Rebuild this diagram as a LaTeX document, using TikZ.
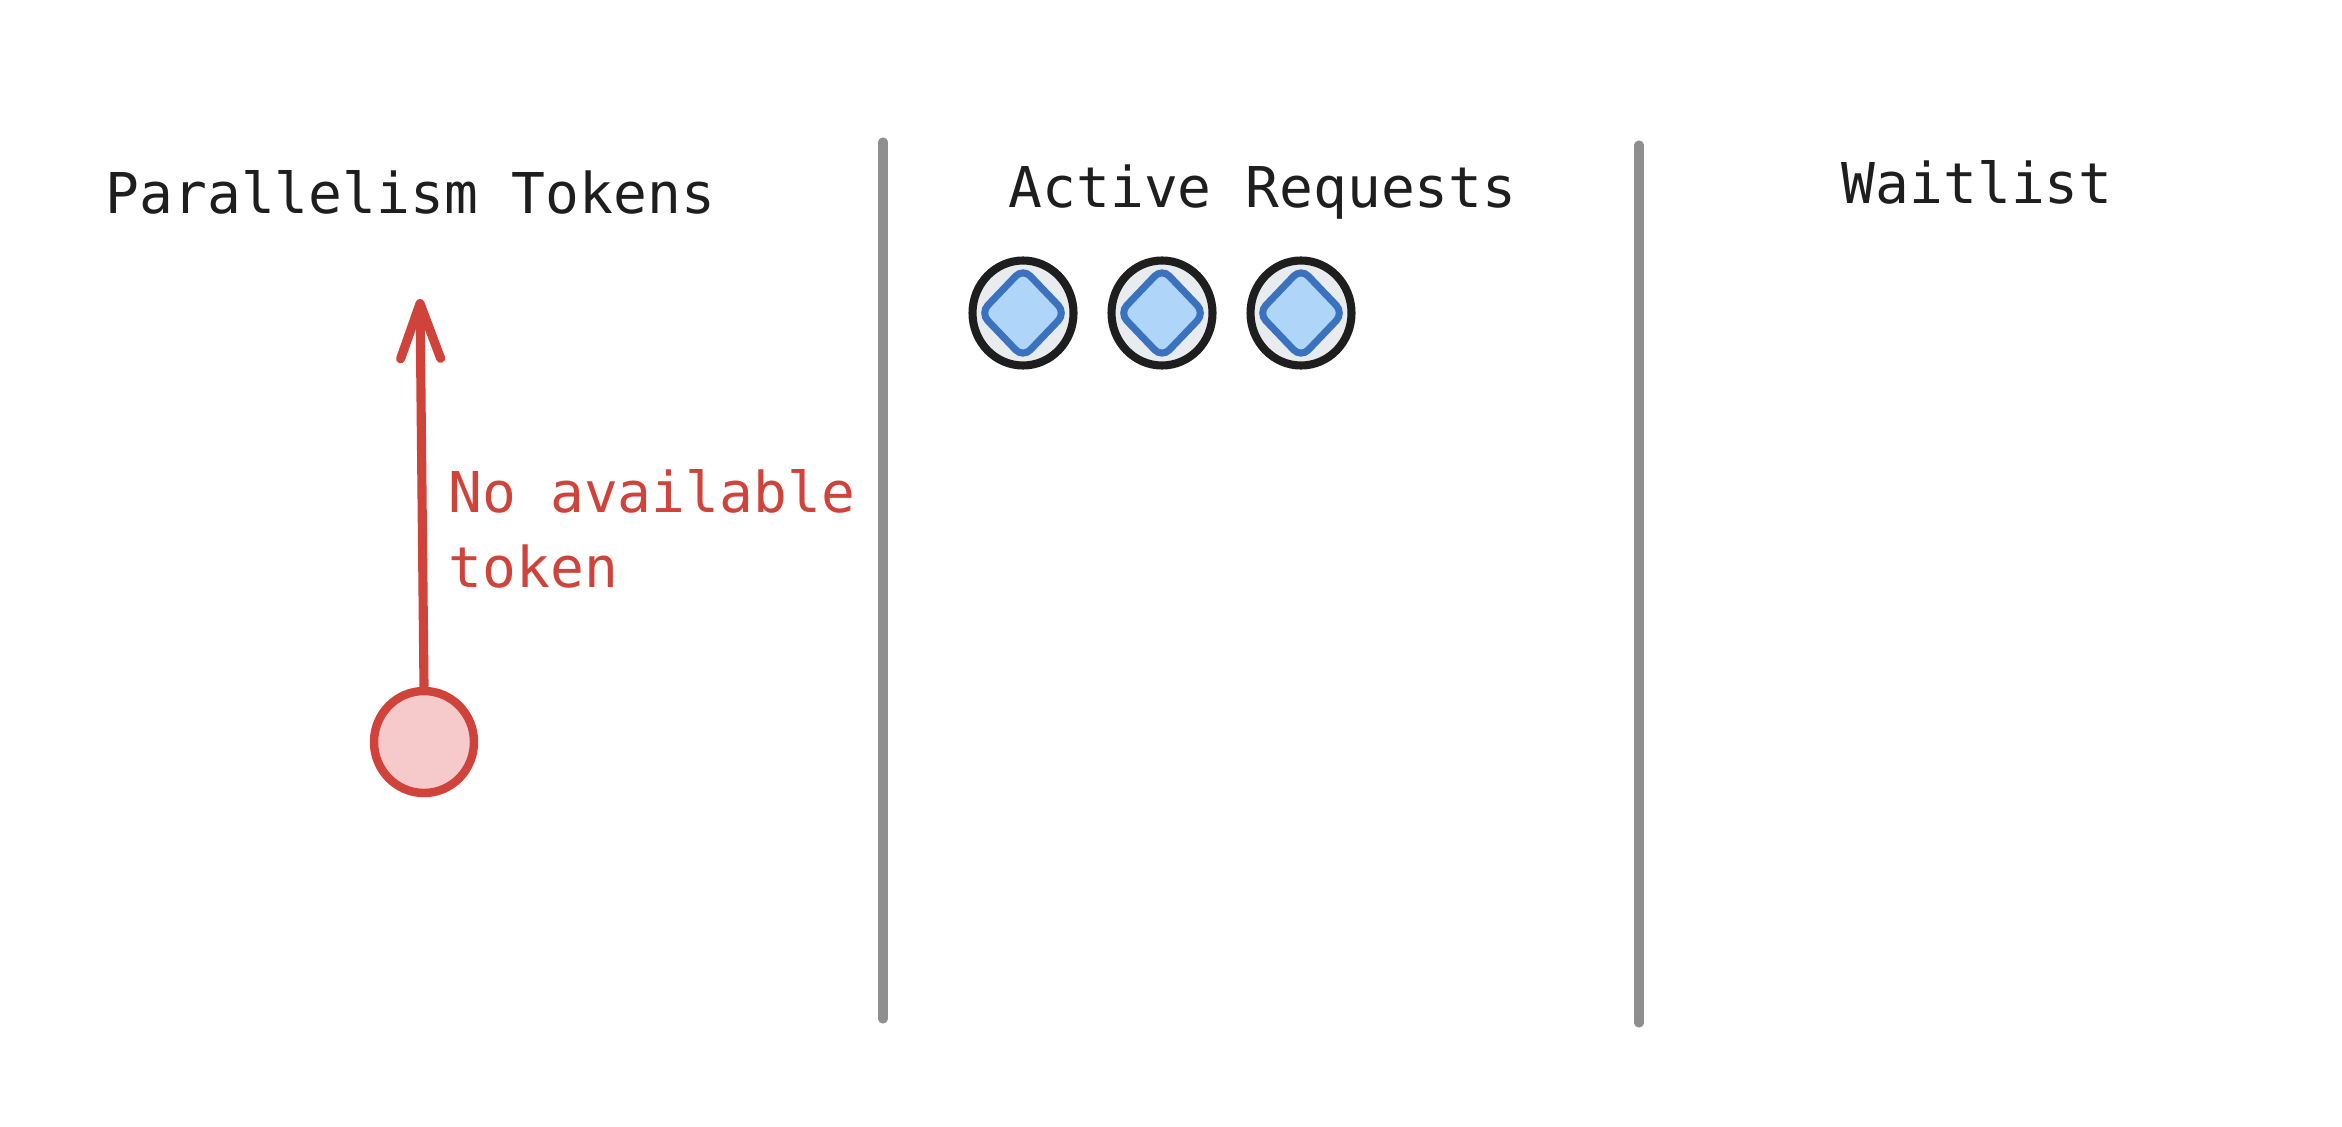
\documentclass[tikz,border=0pt]{standalone}
\usepackage{fontspec}
\setmonofont{DejaVu Sans Mono}
\usetikzlibrary{arrows.meta,shapes.geometric,positioning}
\colorlet{background}{white}
\definecolor{penColor}{HTML}{1E1E1E}
\definecolor{penColor2}{HTML}{8F8F8F}
\definecolor{penColor3}{HTML}{CF433B}
\definecolor{penColor4}{HTML}{3A72C0}
\definecolor{fill1}{HTML}{E9ECEF}
\definecolor{fill3}{HTML}{F6CACA}
\definecolor{fill4}{HTML}{AFD5F8}
\tikzset{
  title/.style={anchor=base west, inner sep=0pt, text=penColor, font=\ttfamily\fontsize{16}{19}\selectfont},
  redtext/.style={anchor=base west, inner sep=0pt, text=penColor3, font=\ttfamily\fontsize{16}{19}\selectfont},
  divider/.style={penColor2, line width=2.6pt, line cap=round},
  req/.style={ellipse, draw=penColor, fill=fill1, line width=2.3pt, minimum width=1.01cm, minimum height=1.05cm, inner sep=0pt},
  blk/.style={diamond, draw=penColor4, fill=fill4, line width=2pt, rounded corners=3pt, minimum width=0.88cm, minimum height=0.92cm, inner sep=0pt},
  newtok/.style={ellipse, draw=penColor3, fill=fill3, line width=2.4pt, minimum width=1.0cm, minimum height=1.02cm, inner sep=0pt}
}

\begin{document}
\begin{tikzpicture}
    \useasboundingbox (0,0) rectangle (23.42,-11.26);
      % column dividers
      \draw[divider] (8.83,-1.42) -- (8.83,-10.19);
      \draw[divider] (16.39,-1.45) -- (16.39,-10.23);
      \node[title] (tok) at (1.05,-2.14) {Parallelism Tokens};
      \node[title] (act) at (10.08,-2.07) {Active Requests};
      \node[title] (wait) at (18.41,-2.04) {Waitlist};
      \foreach \i in {1,2,3} {
        \node[req] (r\i) at ({10.23+1.39*(\i-1)},-3.13) {};
        \node[blk] (b\i) at (r\i) {};
      }
      \node[newtok] (nt) at (4.24,-7.42) {};
      \coordinate (tip) at (4.20,-2.99);
      \draw[penColor3, line width=2.6pt, -{Straight Barb[length=5.5mm,width=4mm,round]}] (nt.north) -- (tip);
      \node[redtext] (lab1) at (4.48,-5.12) {No available};
      \node[redtext] (lab2) at (4.48,-5.87) {token};
    \end{tikzpicture}
\end{document}
